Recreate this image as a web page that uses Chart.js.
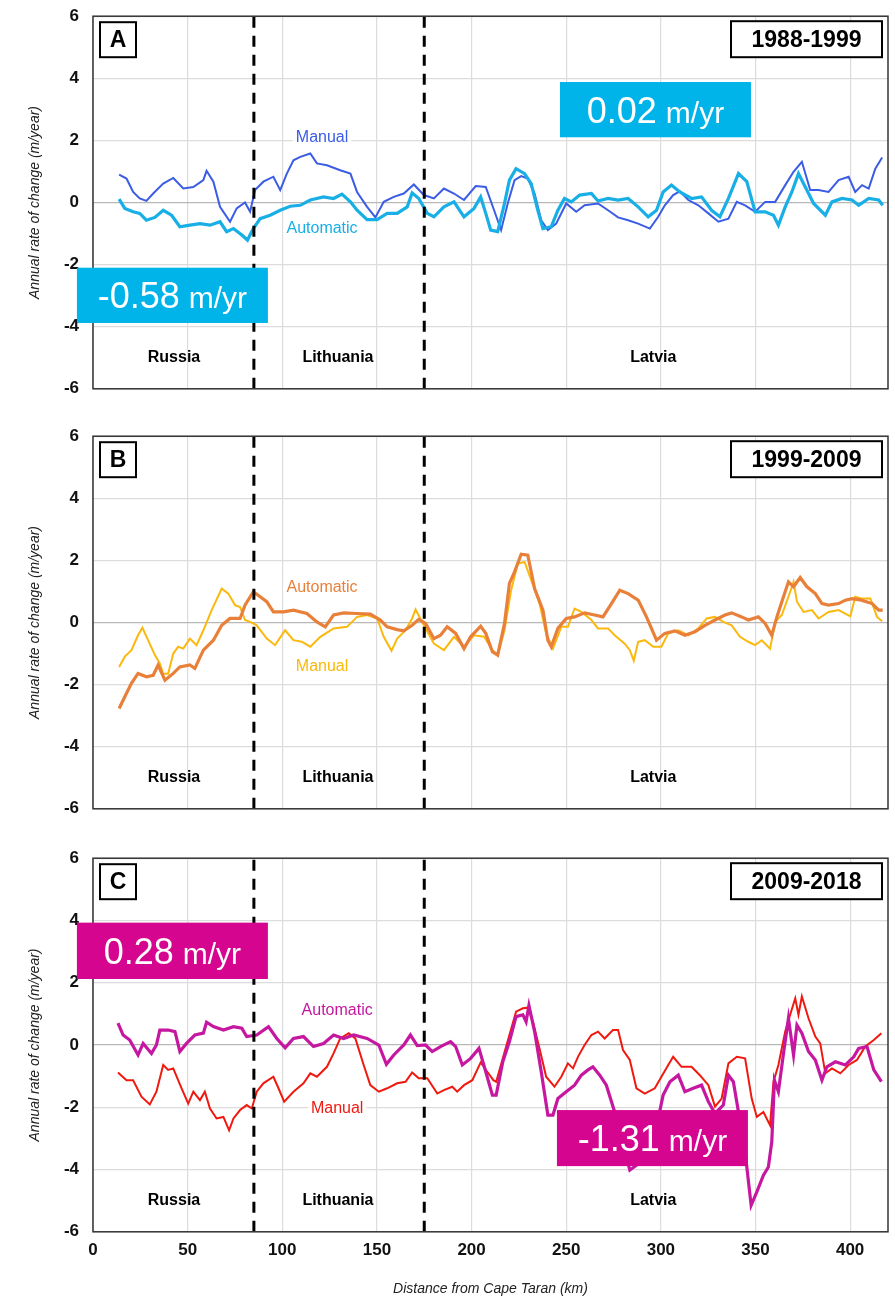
<!DOCTYPE html>
<html>
<head>
<meta charset="utf-8">
<script src="https://cdn.jsdelivr.net/npm/chart.js@4.4.1/dist/chart.umd.min.js"></script>
<style>
  html, body { margin: 0; padding: 0; background: #fff; overflow: hidden; }
  #wrap { position: relative; width: 895px; height: 1298px; overflow: hidden; }
  canvas { position: absolute; left: 0; }
</style>
</head>
<body>
<div id="wrap">
  <canvas id="chartA" width="895" height="421" style="top:-8px"></canvas>
  <canvas id="chartB" width="895" height="421" style="top:412px"></canvas>
  <canvas id="chartC" width="895" height="464" style="top:834px"></canvas>
</div>
<script>
// ---- data (distance from Cape Taran in km, rate in m/year) ----
const panelLetters = ['A', 'B', 'C'];
const periods = ['1988-1999', '1999-2009', '2009-2018'];
const countries = ['Russia', 'Lithuania', 'Latvia'];
const countryKm = [42.8, 129.4, 296];
const borderKm = [85, 175];
const xTicksStep = 50;
const yTicks = [-6, -4, -2, 0, 2, 4, 6];

// A: 1988-1999
const aManualKm = [13.8,17.7,21.2,24.7,28.2,31.8,37.1,42.4,47.7,53,58.3,60,63.6,67.1,72.4,75.9,80.3,83,85.6,90,95.3,98.9,102.4,105.9,109.5,114.8,118.3,123.6,130.6,136,139.5,144.8,149.2,153.6,158.9,164.2,169.5,174.8,180.1,185.4,190.7,196,202.2,207.5,211.9,215.6,219.1,222.7,226.2,229.7,233.3,236.8,240.3,244.7,250,255.3,259.7,266.8,272.1,277.4,282.7,288,294.2,298.6,302.1,306.5,310,314.5,319.8,325.1,330.4,335.7,340.1,344.5,349.8,355.1,360.4,365.7,370.1,374.5,378.9,383.3,388.6,393.9,399.2,402.7,406.3,409.8,413.3,416.9];
const aManualRate = [0.90,0.77,0.34,0.13,0.05,0.29,0.61,0.79,0.45,0.5,0.72,1.02,0.67,-0.14,-0.62,-0.19,0,-0.3,0.4,0.67,0.83,0.4,0.93,1.36,1.47,1.58,1.26,1.2,1.04,0.93,0.34,-0.14,-0.48,0.02,0.18,0.29,0.58,0.24,0.13,0.45,0.29,0.08,0.53,0.5,-0.25,-0.89,-0.03,0.72,0.85,0.77,0.29,-0.57,-0.89,-0.68,-0.03,-0.3,-0.09,-0.03,-0.25,-0.48,-0.57,-0.68,-0.84,-0.46,-0.09,0.24,0.36,0.08,-0.09,-0.35,-0.62,-0.52,0.02,-0.09,-0.3,0.02,0.02,0.56,0.99,1.31,0.4,0.4,0.34,0.72,0.83,0.34,0.56,0.45,1.09,1.45];
const aAutoKm = [13.8,16.8,21.2,24.7,28.2,32.7,37.1,41.5,45.9,51.2,56.5,61.8,67.1,70.6,74.2,78.6,81.6,84.7,88.3,93.6,98.9,104.2,109.5,114.8,121.8,127.1,131.5,136,139.5,144.8,150.1,155.4,160.7,166,168.6,172.1,176.6,180.1,185.4,190.7,196,201.3,204.8,207.5,210.1,213.8,217.4,220,223.5,228,231.5,235,237.7,242.1,245.6,249.1,252.7,257.1,263.3,266.8,272.1,277.4,282.7,288,293.3,297.7,301.2,305.6,310,316.2,321.5,326.8,331.2,335.7,341,345.4,349.8,355.1,359.5,362.1,365.7,369.2,372.7,376.3,380.7,386.9,390.4,395.7,401,404.5,409.8,415.1,417.2];
const aAutoRate = [0.11,-0.19,-0.3,-0.35,-0.57,-0.48,-0.25,-0.41,-0.78,-0.73,-0.68,-0.73,-0.62,-0.94,-0.84,-1.05,-1.21,-0.84,-0.52,-0.41,-0.25,-0.12,-0.09,0.08,0.18,0.13,0.27,0.02,-0.25,-0.55,-0.55,-0.35,-0.35,-0.14,0.31,0.13,-0.35,-0.46,-0.14,0.02,-0.46,-0.19,0.18,-0.35,-0.89,-0.94,-0.03,0.72,1.09,0.93,0.61,-0.25,-0.84,-0.78,-0.25,0.13,0.02,0.24,0.29,0.05,0.13,0.08,0.13,-0.14,-0.46,-0.25,0.34,0.56,0.34,0.13,0.18,-0.25,-0.46,0.13,0.93,0.67,-0.3,-0.3,-0.41,-0.73,-0.14,0.34,0.93,0.5,-0.03,-0.41,0.02,0.13,0.08,-0.09,0.13,0.08,-0.09];

// B: 1999-2009
const bManualKm = [13.8,16.8,20.3,23.8,26.1,29.1,32.7,35.3,37.1,39.7,42.4,45,47.7,51.2,54.7,58.3,62.7,68,71.5,75,77.7,80.3,83,86.5,91.8,96.2,101.5,105.9,110.3,114.8,120.1,127.1,134.2,139.5,144.8,150.1,153.6,157.7,160.7,165.1,168.6,170.4,174.8,180.1,185.4,190.7,196,201.3,206.6,211,213.8,217.4,220.9,224.4,228,231.5,235.9,239.4,243,247.4,250.9,254.4,258,263.3,266.8,272.1,275.6,280.9,283.6,285.7,288,291.5,296,300.3,303.9,309.2,314.5,319.8,324.2,328.6,333,337.4,341.8,346.2,349.8,353.3,357.7,360.4,363.9,367.4,370.1,371.9,375.4,379.8,383.3,388.6,393.9,400.1,402.7,406.3,410.7,414.2,416.9];
const bManualRate = [-1.43,-1.1,-0.89,-0.41,-0.17,-0.57,-1.05,-1.32,-1.65,-1.65,-1.0,-0.78,-0.84,-0.52,-0.73,-0.25,0.4,1.09,0.93,0.56,0.5,0.08,0.02,-0.09,-0.52,-0.73,-0.25,-0.57,-0.62,-0.78,-0.46,-0.19,-0.14,0.18,0.24,0.13,-0.46,-0.91,-0.52,-0.25,0.13,0.42,-0.09,-0.68,-0.89,-0.46,-0.78,-0.41,-0.46,-0.89,-1.05,-0.25,1.04,1.9,1.95,1.36,0.61,-0.35,-0.84,-0.14,-0.14,0.45,0.34,0.08,-0.19,-0.19,-0.41,-0.68,-0.89,-1.23,-0.62,-0.57,-0.78,-0.78,-0.35,-0.25,-0.41,-0.19,0.13,0.18,0.02,-0.09,-0.46,-0.62,-0.73,-0.57,-0.84,0.02,0.24,0.83,1.31,0.67,0.34,0.4,0.13,0.34,0.4,0.2,0.83,0.77,0.77,0.18,0.04];
const bAutoKm = [13.8,16.8,20.3,23.8,28.2,31.8,34.4,38,42.4,45.9,51.2,53.8,58.3,63.6,68,72.4,77.7,80.3,84.7,88.3,91.8,95.3,100.6,105.9,113,118.3,122.7,127.1,132.4,139.5,146.5,151.8,155.4,160.7,164.2,168.6,172.1,175.7,180.1,183.6,187.1,191.6,196,199.5,204.8,207.5,211,213.8,217.4,220,222.7,226.2,229.7,233.3,237.7,240.3,242.1,245.6,250,254.4,259.7,265,269.4,273.9,278.3,282.7,288,292.4,297.7,302.1,307.4,312.7,318,323.3,328.6,333.9,337.4,342.7,346.2,351.5,355.1,358.6,361.3,363.9,367.4,370.1,373.6,377.2,381.6,385.1,388.6,393.9,397.5,401,405.9,411.6,415.1,417.2];
const bAutoRate = [-2.77,-2.39,-1.96,-1.64,-1.75,-1.7,-1.37,-1.86,-1.64,-1.43,-1.37,-1.48,-0.89,-0.57,-0.09,0.13,0.13,0.56,0.99,0.83,0.67,0.34,0.34,0.4,0.29,0.02,-0.14,0.24,0.31,0.29,0.27,0.08,-0.14,-0.23,-0.27,-0.09,0.1,-0.03,-0.52,-0.41,-0.14,-0.35,-0.84,-0.46,-0.12,-0.35,-0.94,-1.05,-0.03,1.26,1.63,2.2,2.17,1.09,0.4,-0.57,-0.78,-0.19,0.13,0.18,0.31,0.24,0.18,0.61,1.04,0.93,0.72,0.18,-0.57,-0.35,-0.27,-0.41,-0.3,-0.09,0.08,0.24,0.31,0.18,0.08,0.18,-0.03,-0.41,0.18,0.67,1.31,1.15,1.45,1.15,0.93,0.61,0.56,0.61,0.72,0.77,0.72,0.61,0.4,0.4];

// C: 2009-2018
const cManualKm = [13.2,17.7,21.2,25.6,30,33.5,37.1,39.7,42.4,46.8,50.3,53,56.5,59.1,61.8,65.3,68.9,71.9,74.2,77.7,81.2,83.9,86.5,90,95.3,98,101,105.9,111.2,114.8,118.3,123.6,127.1,130.6,135.1,138.6,143,146.5,151,155.4,160.7,165.1,168.6,172.1,176.6,181.9,185.4,189.8,192.4,196,200.4,204.8,208.3,211.5,213,216.5,220,223.5,227.1,229.7,232.4,235.9,239.4,243.8,247.4,250.9,253.6,256.2,259.7,263.3,266.8,270.3,274.7,277.4,280,283.6,287.1,291.5,296.8,300.3,303.9,306.5,310.9,316.2,320.6,325.1,328.6,332.1,335.7,340.1,344.5,348,350.7,354.2,357.7,359.5,362.1,365.7,368.3,371,372.7,374.5,378,381.6,384.2,386.9,390.4,394.8,399.2,403.6,408,412.5,416.5];
const cManualRate = [-0.88,-1.13,-1.13,-1.66,-1.91,-1.5,-0.64,-0.8,-0.75,-1.39,-1.88,-1.5,-1.77,-1.5,-2.04,-2.36,-2.31,-2.74,-2.36,-2.09,-1.93,-2.04,-1.5,-1.23,-1.02,-1.39,-1.82,-1.5,-1.23,-0.91,-1.02,-0.7,-0.27,0.21,0.38,0.21,-0.64,-1.29,-1.5,-1.39,-1.23,-1.18,-0.88,-1.07,-1.07,-1.56,-1.45,-1.34,-1.5,-1.29,-1.13,-0.56,-0.86,-1.13,-1.18,-0.43,0.32,1.07,1.18,1.2,0.75,-0.11,-1.02,-1.34,-1.02,-0.59,-0.75,-0.38,0,0.32,0.43,0.21,0.48,0.48,-0.16,-0.48,-1.39,-1.56,-1.39,-1.02,-0.64,-0.38,-0.7,-0.7,-0.97,-1.29,-1.98,-1.72,-0.59,-0.38,-0.43,-1.72,-2.31,-2.15,-2.58,-1.18,-0.64,0.43,0.97,1.5,0.97,1.56,0.86,0.27,0.05,-0.91,-0.75,-0.91,-0.64,-0.48,-0.05,0.16,0.38];
const cAutoKm = [13.2,15.9,19.4,23.8,26.5,30.9,33.5,35.3,39.7,43.3,45.9,49.4,53.8,58.3,60,63.6,68.9,74.2,78.6,81.2,86.5,92.7,97.1,101.5,105.9,111.2,116.5,121.8,127.1,132.4,137.7,144.8,151,155,158.9,164.2,167.7,171.3,175.7,179.2,183.6,188.9,191.6,195.1,199.5,203.9,207.5,211,213,216.5,220,223.5,227.1,228.8,230.3,233.3,236.8,240.3,243,245.6,250,254.4,258,261.5,264.1,267.7,271.2,275.6,278.3,283.6,287.1,293.3,298.6,301.2,304.8,309.2,312.7,317.1,321.5,325.1,328.6,333,335.7,338.3,341,344.5,347.7,350.7,354.2,356.8,358.6,360,362.1,364.8,367.4,370.1,371.9,374.5,378,381.6,385.1,387.7,392.2,397.5,401.9,404.5,408.9,412.5,416.5];
const cAutoRate = [0.7,0.32,0.16,-0.32,0.05,-0.27,0,0.48,0.48,0.43,-0.21,0.05,0.32,0.38,0.73,0.59,0.48,0.59,0.54,0.27,0.32,0.59,0.21,-0.09,0.21,0.27,-0.05,0.05,0.32,0.21,0.32,0.21,0,-0.62,-0.32,0,0.32,-0.02,0,-0.21,-0.05,0.11,-0.05,-0.64,-0.43,-0.11,-0.86,-1.61,-1.61,-0.54,0.11,0.91,0.97,0.75,1.27,0.43,-0.86,-2.25,-2.25,-1.72,-1.5,-1.29,-0.97,-0.8,-0.7,-0.97,-1.29,-2.15,-2.79,-4.02,-3.86,-3.11,-2.36,-1.61,-1.18,-0.97,-1.5,-1.39,-1.29,-1.82,-2.2,-1.93,-0.97,-1.18,-2.15,-3.43,-5.15,-4.72,-4.18,-3.92,-3.11,-1.13,-1.5,-0.27,0.86,-0.32,0.64,0.38,-0.21,-0.48,-1.13,-0.7,-0.54,-0.64,-0.38,-0.11,-0.05,-0.8,-1.18];

const FONT = "'Liberation Sans', Arial, Helvetica, sans-serif";
const toPoints = (km, rate) => km.map((k, i) => ({x: k, y: rate[i]}));

// draws frame, labels and the annotation boxes on top of the lines
const decorPlugin = {
  id: 'panelDecor',
  afterDatasetsDraw(chart, args, opts) {
    const {ctx, chartArea: area} = chart;
    const x = chart.scales.x, y = chart.scales.y;
    ctx.save();

    ctx.strokeStyle = '#333';
    ctx.lineWidth = 1.5;
    ctx.strokeRect(area.left, area.top, area.right - area.left, area.bottom - area.top);

    ctx.textAlign = 'center';
    ctx.textBaseline = 'middle';
    ctx.fillStyle = '#000';
    ctx.font = `bold 16px ${FONT}`;
    countries.forEach((name, i) => {
      ctx.fillText(name, x.getPixelForValue(countryKm[i]), y.getPixelForValue(-5));
    });

    // series names
    ctx.font = `16px ${FONT}`;
    opts.labels.forEach(l => {
      const px = x.getPixelForValue(l.km), py = y.getPixelForValue(l.val);
      const w = ctx.measureText(l.text).width;
      ctx.fillStyle = '#fff';
      ctx.fillRect(px - w / 2 - 3, py - 9, w + 6, 18);
      ctx.fillStyle = l.color;
      ctx.fillText(l.text, px, py);
    });

    // panel letter
    ctx.lineWidth = 2;
    ctx.strokeStyle = '#000';
    ctx.fillStyle = '#fff';
    ctx.fillRect(area.left + 7, area.top + 6, 36, 35);
    ctx.strokeRect(area.left + 7, area.top + 6, 36, 35);
    ctx.fillStyle = '#000';
    ctx.font = `bold 23px ${FONT}`;
    ctx.fillText(opts.letter, area.left + 25, area.top + 24);

    // period box
    ctx.fillStyle = '#fff';
    ctx.fillRect(area.right - 157, area.top + 5, 151, 36);
    ctx.strokeRect(area.right - 157, area.top + 5, 151, 36);
    ctx.fillStyle = '#000';
    ctx.font = `bold 23px ${FONT}`;
    ctx.fillText(opts.period, area.right - 81.5, area.top + 24);

    // mean-rate boxes
    opts.rates.forEach(r => {
      const x0 = x.getPixelForValue(r.x0), x1 = x.getPixelForValue(r.x1);
      const y0 = y.getPixelForValue(r.y0), y1 = y.getPixelForValue(r.y1);
      ctx.fillStyle = r.color;
      ctx.fillRect(x0, y0, x1 - x0, y1 - y0);
      ctx.fillStyle = '#fff';
      ctx.textAlign = 'left';
      ctx.textBaseline = 'alphabetic';
      ctx.font = `36px ${FONT}`;
      const w1 = ctx.measureText(r.text).width;
      ctx.font = `30px ${FONT}`;
      const w2 = ctx.measureText('m/yr').width;
      const sx = (x0 + x1) / 2 - (w1 + 9 + w2) / 2;
      const base = (y0 + y1) / 2 + 13;
      ctx.font = `36px ${FONT}`;
      ctx.fillText(r.text, sx, base);
      ctx.font = `30px ${FONT}`;
      ctx.fillText('m/yr', sx + w1 + 9, base);
      ctx.textAlign = 'center';
      ctx.textBaseline = 'middle';
    });

    ctx.restore();
  }
};

function makePanel(id, idx, series, labels, rates, showX) {
  const datasets = borderKm.map(k => ({
    data: [{x: k, y: -6}, {x: k, y: 6}],
    borderColor: '#000',
    borderWidth: 3,
    borderDash: [11, 8],
    pointRadius: 0,
    order: 0
  }));
  series.forEach((s, i) => {
    datasets.push({
      data: toPoints(s.km, s.rate),
      borderColor: s.color,
      borderWidth: s.width,
      pointRadius: 0,
      tension: 0,
      order: 2 - i
    });
  });

  new Chart(document.getElementById(id), {
    type: 'line',
    data: { datasets },
    plugins: [decorPlugin],
    options: {
      responsive: false,
      animation: false,
      layout: { padding: { left: 27, right: 7, top: 7.5, bottom: showX ? 0 : 11 } },
      scales: {
        x: {
          type: 'linear',
          min: 0,
          max: 420,
          border: { display: false },
          grid: { color: '#dcdcdc', lineWidth: 1.2, drawTicks: false },
          ticks: {
            display: showX,
            stepSize: xTicksStep,
            includeBounds: false,
            padding: 8,
            color: '#111',
            font: { family: FONT, size: 17, weight: 'bold' }
          },
          title: {
            display: showX,
            text: 'Distance from Cape Taran (km)',
            color: '#222',
            padding: { top: 13, bottom: 0 },
            font: { family: FONT, size: 14, style: 'italic' }
          }
        },
        y: {
          min: yTicks[0],
          max: yTicks[yTicks.length - 1],
          afterFit: s => { s.width = 66; },
          border: { display: false },
          grid: {
            drawTicks: false,
            lineWidth: 1.2,
            color: c => c.tick && c.tick.value === 0 ? '#b8b8b8' : '#dcdcdc'
          },
          ticks: {
            stepSize: 2,
            padding: 14,
            color: '#111',
            font: { family: FONT, size: 17, weight: 'bold' }
          },
          title: {
            display: true,
            text: 'Annual rate of change (m/year)',
            color: '#222',
            padding: { top: 0, bottom: 0 },
            font: { family: FONT, size: 14, style: 'italic' }
          }
        }
      },
      plugins: {
        legend: { display: false },
        tooltip: { enabled: false },
        panelDecor: { letter: panelLetters[idx], period: periods[idx], labels, rates }
      }
    }
  });
}

const cyan = '#00b4ea', magenta = '#d6058f';

makePanel('chartA', 0,
  [ {km: aManualKm, rate: aManualRate, color: '#3b5ce4', width: 2},
    {km: aAutoKm, rate: aAutoRate, color: '#18aee6', width: 3.2} ],
  [ {text: 'Manual', km: 121, val: 2.1, color: '#3b5ce4'},
    {text: 'Automatic', km: 121, val: -0.85, color: '#18aee6'} ],
  [ {text: '-0.58', x0: -8.5, x1: 92.4, y0: -2.1, y1: -3.88, color: cyan},
    {text: '0.02', x0: 246.7, x1: 347.6, y0: 3.88, y1: 2.1, color: cyan} ],
  false);

makePanel('chartB', 1,
  [ {km: bManualKm, rate: bManualRate, color: '#fbb80e', width: 2},
    {km: bAutoKm, rate: bAutoRate, color: '#e8803a', width: 3.2} ],
  [ {text: 'Automatic', km: 121, val: 1.14, color: '#e8803a'},
    {text: 'Manual', km: 121, val: -1.43, color: '#f8b90e'} ],
  [],
  false);

makePanel('chartC', 2,
  [ {km: cManualKm, rate: cManualRate, color: '#f0190f', width: 2},
    {km: cAutoKm, rate: cAutoRate, color: '#c5179f', width: 3.2} ],
  [ {text: 'Automatic', km: 129, val: 1.09, color: '#c5179f'},
    {text: 'Manual', km: 129, val: -2.03, color: '#f0190f'} ],
  [ {text: '0.28', x0: -8.5, x1: 92.4, y0: 3.93, y1: 2.12, color: magenta},
    {text: '-1.31', x0: 245.1, x1: 346, y0: -2.09, y1: -3.89, color: magenta} ],
  true);
</script>
</body>
</html>
